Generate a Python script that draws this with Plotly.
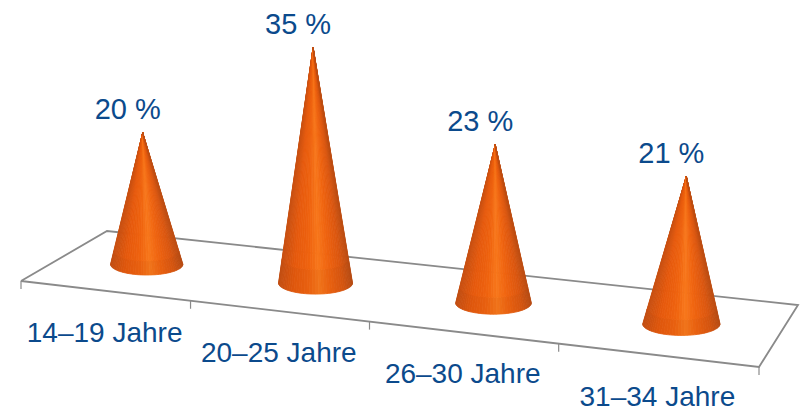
import numpy as np
import plotly.graph_objects as go

# Data
categories = ["14–19 Jahre", "20–25 Jahre", "26–30 Jahre", "31–34 Jahre"]
values = [20, 35, 23, 21]
value_labels = ["20 %", "35 %", "23 %", "21 %"]

# Scene geometry (projection of the floor, in canvas units)
W, H = 803, 414
FL, FR, BR, BL = (21, 281), (759, 367), (798, 305), (107, 231)
BASE_DEPTH = 0.5
TEXT = "#0B4A8C"
FLOOR = "#8A8A8A"
FONT = "Liberation Sans"


def homography(p0, p1, p2, p3):
    (x0, y0), (x1, y1), (x2, y2), (x3, y3) = p0, p1, p2, p3
    dx1, dx2, sx = x1 - x2, x3 - x2, x0 - x1 + x2 - x3
    dy1, dy2, sy = y1 - y2, y3 - y2, y0 - y1 + y2 - y3
    d = dx1 * dy2 - dx2 * dy1
    g = (sx * dy2 - dx2 * sy) / d
    h = (dx1 * sy - sx * dy1) / d
    return np.array([[x1 - x0 + g * x1, x3 - x0 + h * x3, x0],
                     [y1 - y0 + g * y1, y3 - y0 + h * y3, y0],
                     [g, h, 1.0]])


M = homography(FL, FR, BR, BL)


def project(u, v):
    p = M @ np.array([u, v, 1.0])
    return p[0] / p[2], p[1] / p[2]


def shade(t, frac):
    stops = [(0.0, (200, 80, 18)), (0.2, (230, 90, 14)), (0.42, (240, 100, 16)),
             (0.55, (248, 120, 28)), (0.7, (240, 100, 16)), (0.88, (220, 88, 16)), (1.0, (190, 78, 20))]
    xs = [s[0] for s in stops]
    c = [np.interp(t, xs, [s[1][k] for s in stops]) for k in range(3)]
    m = 0.97 if frac < 0.1 else 1.0
    return "rgb(%d,%d,%d)" % tuple(int(v * m) for v in c)


fig = go.Figure()


def line(xs, ys, width=1.8):
    fig.add_trace(go.Scatter(x=xs, y=ys, mode="lines", hoverinfo="skip",
                             line=dict(color=FLOOR, width=width)))


# Floor outline
corners = [FL, FR, BR, BL, FL]
line([c[0] for c in corners], [c[1] for c in corners])

# Ticks on the front edge
n = len(categories)
for i in range(n + 1):
    x, y = project(i / n, 0)
    line([x, x], [y, y + 8], 1.2)

# Cones
apexes = []
for i, val in enumerate(values):
    u = (i + 0.5) / n
    cx, cy = project(u, BASE_DEPTH)
    k = 6.5 + 0.6 * u
    h = val * k
    rx = 5.5 * k
    ry = 0.3 * rx
    ax, ay = cx + (cx - W / 2) * h * 0.00012, cy - h
    apexes.append((ax, ay))
    N = 40
    th = np.linspace(np.pi, 0, N + 1)
    ex = cx + rx * np.cos(th)
    ey = cy + ry * np.sin(th)
    for j in range(N):
        tm = (np.cos((th[j] + th[j + 1]) / 2) + 1) / 2
        for f0, f1 in ((0.0, 0.1), (0.1, 1.0)):
            def P(a, b, f):
                return a + (ax - a) * f, b + (ay - b) * f
            q = [P(ex[j], ey[j], f0), P(ex[j + 1], ey[j + 1], f0),
                 P(ex[j + 1], ey[j + 1], f1), P(ex[j], ey[j], f1)]
            col = shade(tm, f0)
            fig.add_trace(go.Scatter(x=[p[0] for p in q] + [q[0][0]], y=[p[1] for p in q] + [q[0][1]],
                                     mode="lines", fill="toself", fillcolor=col,
                                     line=dict(color=col, width=0.8), hoverinfo="skip"))

# Value labels
fig.add_trace(go.Scatter(x=[a[0] - 15 for a in apexes], y=[a[1] - 21 for a in apexes],
                         mode="text", text=value_labels, textposition="middle center",
                         textfont=dict(family=FONT, size=29, color=TEXT), hoverinfo="skip"))
# Category labels
mids = [project((i + 0.5) / n, 0) for i in range(n)]
fig.add_trace(go.Scatter(x=[m[0] for m in mids], y=[m[1] + 44 for m in mids],
                         mode="text", text=categories, textposition="middle center",
                         textfont=dict(family=FONT, size=28, color=TEXT), hoverinfo="skip"))

fig.update_layout(width=W, height=H, margin=dict(l=0, r=0, t=0, b=0), showlegend=False,
                  paper_bgcolor="white", plot_bgcolor="white",
                  xaxis=dict(visible=False, range=[0, W], fixedrange=True),
                  yaxis=dict(visible=False, range=[H, 0], fixedrange=True))
fig.write_html("out.html", config={"displayModeBar": False},
               post_script="document.body.style.margin='0';document.body.style.overflow='hidden';")
